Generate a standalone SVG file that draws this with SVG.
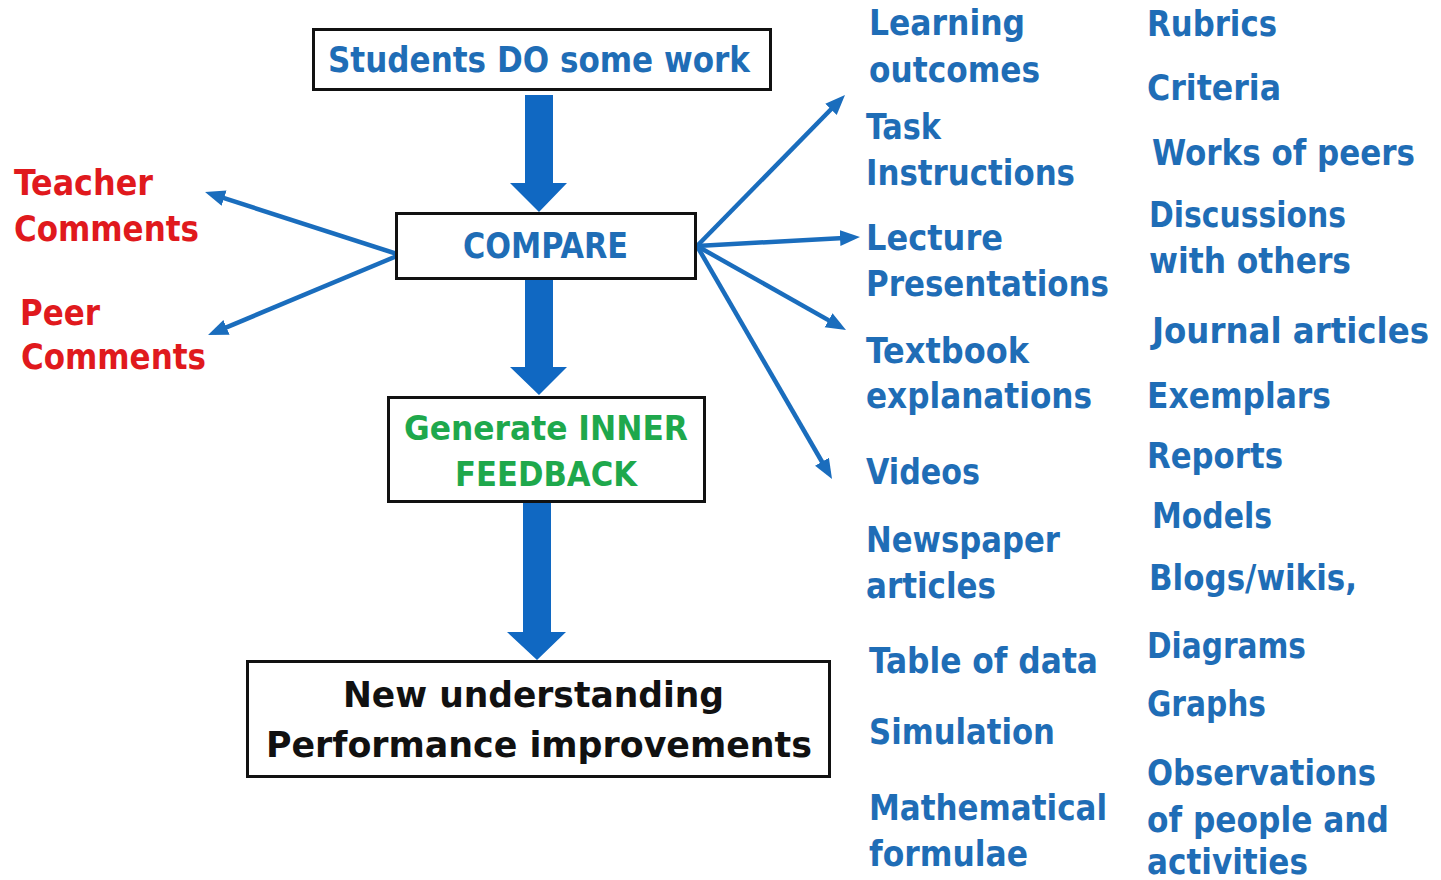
<svg xmlns="http://www.w3.org/2000/svg" width="1441" height="880" viewBox="0 0 1441 880">
  <style>
    text { font-family: "DejaVu Sans Condensed", "DejaVu Sans", sans-serif; font-weight: bold; }
    .blue { fill: #1f6db6; font-size: 35px; }
    .red { fill: #e0191d; font-size: 35px; }
    .green { fill: #1ea84c; font-size: 34px; }
    .black { fill: #111111; font-size: 36px; }
    .box { fill: #ffffff; stroke: #111111; stroke-width: 3; }
    .thin { stroke: #1a6dbd; stroke-width: 4.5; fill: none; marker-end: url(#tip); }
    .big { fill: #1068c2; }
  </style>
  <defs>
    <marker id="tip" markerUnits="userSpaceOnUse" markerWidth="22" markerHeight="18" refX="13" refY="8" orient="auto">
      <path d="M0,0 L20,8 L0,16 z" fill="#1a6dbd"/>
    </marker>
  </defs>
  <rect width="1441" height="880" fill="#ffffff"/>

  <!-- connectors -->
  <g id="connectors">
    <polygon class="big" points="525,95 553,95 553,183 567,183 539,212 510,183 525,183"/>
    <polygon class="big" points="525,280 553,280 553,367 567,367 539,395 510,367 525,367"/>
    <polygon class="big" points="523,503 551,503 551,632 566,632 537,660 507,632 523,632"/>
    <line class="thin" x1="397" y1="254" x2="211.7" y2="194.1"/>
    <line class="thin" x1="397" y1="256" x2="214.5" y2="332.3"/>
    <line class="thin" x1="697" y1="246" x2="840.1" y2="100"/>
    <line class="thin" x1="697" y1="246" x2="853" y2="237.4"/>
    <line class="thin" x1="697" y1="246" x2="839.9" y2="326.6"/>
    <line class="thin" x1="697" y1="246" x2="828.5" y2="473"/>
  </g>

  <g id="node-students">
    <rect class="box" x="313.5" y="29.5" width="457" height="60"/>
    <text class="blue" x="328" y="72" textLength="422" lengthAdjust="spacingAndGlyphs">Students DO some work</text>
  </g>

  <g id="node-compare">
    <rect class="box" x="396.5" y="213.5" width="299" height="65"/>
    <text class="blue" font-size="33" x="463" y="258" textLength="165" lengthAdjust="spacingAndGlyphs">COMPARE</text>
  </g>

  <g id="node-inner">
    <rect class="box" x="388.5" y="397.5" width="316" height="104"/>
    <text class="green" x="404" y="440" textLength="284" lengthAdjust="spacingAndGlyphs">Generate INNER</text>
    <text class="green" x="455" y="486" textLength="182" lengthAdjust="spacingAndGlyphs">FEEDBACK</text>
  </g>

  <g id="node-outcome">
    <rect class="box" x="247.5" y="661.5" width="582" height="115"/>
    <text class="black" x="343" y="707" textLength="381" lengthAdjust="spacingAndGlyphs">New understanding</text>
    <text class="black" x="266" y="757" textLength="546" lengthAdjust="spacingAndGlyphs">Performance improvements</text>
  </g>

  <g id="node-teacher">
    <text class="red" x="14" y="195" textLength="139" lengthAdjust="spacingAndGlyphs">Teacher</text>
    <text class="red" x="14" y="241" textLength="185" lengthAdjust="spacingAndGlyphs">Comments</text>
  </g>

  <g id="node-peer">
    <text class="red" x="20" y="325" textLength="80" lengthAdjust="spacingAndGlyphs">Peer</text>
    <text class="red" x="21" y="369" textLength="185" lengthAdjust="spacingAndGlyphs">Comments</text>
  </g>

  <!-- first column of sources -->
  <g id="node-learning-outcomes">
    <text class="blue" x="869" y="35" textLength="156" lengthAdjust="spacingAndGlyphs">Learning</text>
    <text class="blue" x="869" y="82" textLength="171" lengthAdjust="spacingAndGlyphs">outcomes</text>
  </g>
  <g id="node-task">
    <text class="blue" x="866" y="139" textLength="75" lengthAdjust="spacingAndGlyphs">Task</text>
    <text class="blue" x="866" y="185" textLength="209" lengthAdjust="spacingAndGlyphs">Instructions</text>
  </g>
  <g id="node-lecture">
    <text class="blue" x="866" y="250" textLength="137" lengthAdjust="spacingAndGlyphs">Lecture</text>
    <text class="blue" x="866" y="296" textLength="243" lengthAdjust="spacingAndGlyphs">Presentations</text>
  </g>
  <g id="node-textbook">
    <text class="blue" x="866" y="363" textLength="163" lengthAdjust="spacingAndGlyphs">Textbook</text>
    <text class="blue" x="866" y="408" textLength="226" lengthAdjust="spacingAndGlyphs">explanations</text>
  </g>
  <g id="node-videos">
    <text class="blue" x="866" y="484" textLength="114" lengthAdjust="spacingAndGlyphs">Videos</text>
  </g>
  <g id="node-newspaper">
    <text class="blue" x="866" y="552" textLength="194" lengthAdjust="spacingAndGlyphs">Newspaper</text>
    <text class="blue" x="866" y="598" textLength="130" lengthAdjust="spacingAndGlyphs">articles</text>
  </g>
  <g id="node-table">
    <text class="blue" x="869" y="673" textLength="229" lengthAdjust="spacingAndGlyphs">Table of data</text>
  </g>
  <g id="node-simulation">
    <text class="blue" x="869" y="744" textLength="186" lengthAdjust="spacingAndGlyphs">Simulation</text>
  </g>
  <g id="node-maths">
    <text class="blue" x="869" y="820" textLength="238" lengthAdjust="spacingAndGlyphs">Mathematical</text>
    <text class="blue" x="869" y="866" textLength="159" lengthAdjust="spacingAndGlyphs">formulae</text>
  </g>

  <!-- second column of sources -->
  <g id="node-rubrics">
    <text class="blue" x="1147" y="36" textLength="130" lengthAdjust="spacingAndGlyphs">Rubrics</text>
  </g>
  <g id="node-criteria">
    <text class="blue" x="1147" y="100" textLength="134" lengthAdjust="spacingAndGlyphs">Criteria</text>
  </g>
  <g id="node-peers-work">
    <text class="blue" x="1152" y="165" textLength="263" lengthAdjust="spacingAndGlyphs">Works of peers</text>
  </g>
  <g id="node-discussions">
    <text class="blue" x="1149" y="227" textLength="197" lengthAdjust="spacingAndGlyphs">Discussions</text>
    <text class="blue" x="1149" y="273" textLength="202" lengthAdjust="spacingAndGlyphs">with others</text>
  </g>
  <g id="node-journal">
    <text class="blue" x="1152" y="343" textLength="277" lengthAdjust="spacingAndGlyphs">Journal articles</text>
  </g>
  <g id="node-exemplars">
    <text class="blue" x="1147" y="408" textLength="184" lengthAdjust="spacingAndGlyphs">Exemplars</text>
  </g>
  <g id="node-reports">
    <text class="blue" x="1147" y="468" textLength="136" lengthAdjust="spacingAndGlyphs">Reports</text>
  </g>
  <g id="node-models">
    <text class="blue" x="1152" y="528" textLength="120" lengthAdjust="spacingAndGlyphs">Models</text>
  </g>
  <g id="node-blogs">
    <text class="blue" x="1149" y="590" textLength="208" lengthAdjust="spacingAndGlyphs">Blogs/wikis,</text>
  </g>
  <g id="node-diagrams">
    <text class="blue" x="1147" y="658" textLength="159" lengthAdjust="spacingAndGlyphs">Diagrams</text>
  </g>
  <g id="node-graphs">
    <text class="blue" x="1147" y="716" textLength="119" lengthAdjust="spacingAndGlyphs">Graphs</text>
  </g>
  <g id="node-observations">
    <text class="blue" x="1147" y="785" textLength="229" lengthAdjust="spacingAndGlyphs">Observations</text>
    <text class="blue" x="1147" y="832" textLength="242" lengthAdjust="spacingAndGlyphs">of people and</text>
    <text class="blue" x="1147" y="874" textLength="161" lengthAdjust="spacingAndGlyphs">activities</text>
  </g>
</svg>
